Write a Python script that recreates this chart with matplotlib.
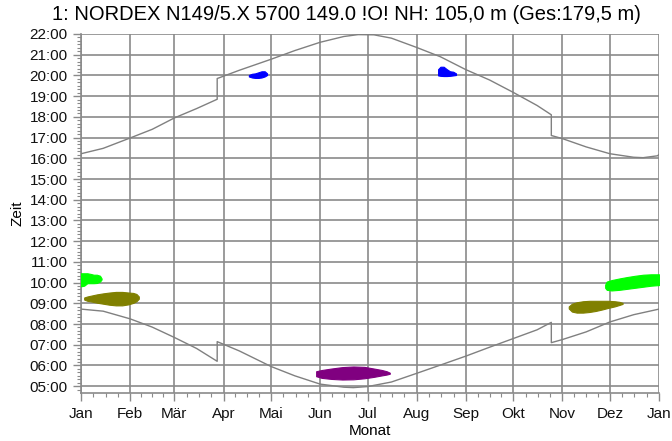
import matplotlib
matplotlib.use("Agg")
import matplotlib.pyplot as plt
import numpy as np
from matplotlib.ticker import FixedLocator, MultipleLocator, FuncFormatter

plt.rcParams['font.family'] = ['Liberation Sans', 'DejaVu Sans']

# Month ticks (day of year) and German labels
month_days = [0, 31, 59, 90, 120, 151, 181, 212, 243, 273, 304, 334, 365]
month_labels = ["Jan", "Feb", "Mär", "Apr", "Mai", "Jun", "Jul", "Aug", "Sep", "Okt", "Nov", "Dez", "Jan"]

# Sunset (upper gray curve), hours, with DST jumps
sunset_days = [0, 14, 31, 45, 59, 73, 86, 86, 100, 120, 135, 151, 166, 175, 185, 196, 212, 227, 243, 258, 273, 288, 297, 297, 304, 319, 334, 349, 355, 364, 365]
sunset_hours = [16.22, 16.48, 16.98, 17.40, 17.95, 18.40, 18.85, 19.85, 20.25, 20.78, 21.20, 21.60, 21.88, 21.97, 21.96, 21.80, 21.35, 20.90, 20.28, 19.78, 19.18, 18.55, 18.10, 17.10, 16.95, 16.55, 16.22, 16.05, 16.03, 16.12, 16.18]

# Sunrise (lower gray curve)
sunrise_days = [0, 14, 31, 45, 59, 73, 86, 86, 100, 120, 135, 151, 166, 172, 181, 196, 212, 227, 243, 258, 273, 288, 297, 297, 304, 319, 334, 349, 365]
sunrise_hours = [8.72, 8.62, 8.25, 7.85, 7.35, 6.82, 6.20, 7.15, 6.70, 5.95, 5.50, 5.10, 4.95, 4.93, 4.98, 5.20, 5.62, 6.02, 6.45, 6.88, 7.30, 7.72, 8.08, 7.10, 7.25, 7.62, 8.10, 8.45, 8.72]

# Shadow-flicker periods: (days, lower, upper, colour)
green_jan_days = [0, 2, 4, 6, 8, 10, 12, 13]
green_jan_top = [10.45, 10.45, 10.45, 10.42, 10.38, 10.38, 10.33, 10.20]
green_jan_bot = [9.82, 9.85, 9.97, 9.97, 9.97, 9.98, 10.05, 10.15]

olive_jan_days = [2, 4, 7, 10, 14, 18, 22, 26, 30, 33, 35, 36.5]
olive_jan_top = [9.28, 9.33, 9.38, 9.43, 9.48, 9.52, 9.55, 9.55, 9.52, 9.50, 9.45, 9.33]
olive_jan_bot = [9.18, 9.12, 9.08, 9.03, 8.98, 8.93, 8.90, 8.90, 8.95, 9.02, 9.10, 9.22]

blue_apr_days = [106, 108, 110, 112, 114, 116, 117.5]
blue_apr_top = [20.02, 20.08, 20.10, 20.15, 20.20, 20.20, 20.10]
blue_apr_bot = [19.95, 19.90, 19.88, 19.88, 19.90, 19.95, 20.02]

blue_aug_days = [225.5, 227, 229, 231, 233, 235, 236.8]
blue_aug_top = [20.30, 20.42, 20.42, 20.30, 20.20, 20.18, 20.10]
blue_aug_bot = [20.00, 19.98, 19.97, 19.97, 19.98, 20.00, 20.02]

purple_days = [148.5, 152, 158, 165, 172, 179, 185, 190, 193, 195]
purple_top = [5.72, 5.78, 5.85, 5.92, 5.95, 5.93, 5.85, 5.78, 5.72, 5.65]
purple_bot = [5.48, 5.40, 5.35, 5.32, 5.33, 5.38, 5.45, 5.52, 5.56, 5.60]

olive_nov_days = [308, 310, 313, 317, 321, 325, 329, 333, 337, 340, 342]
olive_nov_top = [8.85, 8.98, 9.05, 9.10, 9.12, 9.12, 9.12, 9.12, 9.10, 9.07, 9.02]
olive_nov_bot = [8.75, 8.60, 8.55, 8.55, 8.58, 8.63, 8.70, 8.78, 8.85, 8.92, 8.97]

green_dec_days = [331, 332, 335, 340, 345, 350, 355, 360, 365]
green_dec_top = [9.90, 10.05, 10.12, 10.20, 10.27, 10.33, 10.38, 10.40, 10.40]
green_dec_bot = [9.75, 9.65, 9.62, 9.65, 9.70, 9.75, 9.80, 9.85, 9.88]

blobs = [
    (green_jan_days, green_jan_bot, green_jan_top, "#00ff00"),
    (olive_jan_days, olive_jan_bot, olive_jan_top, "#808000"),
    (blue_apr_days, blue_apr_bot, blue_apr_top, "#0000ff"),
    (blue_aug_days, blue_aug_bot, blue_aug_top, "#0000ff"),
    (purple_days, purple_bot, purple_top, "#800080"),
    (olive_nov_days, olive_nov_bot, olive_nov_top, "#808000"),
    (green_dec_days, green_dec_bot, green_dec_top, "#00ff00"),
]

fig = plt.figure(figsize=(6.72, 4.41), dpi=100)
ax = fig.add_axes([81/672, 1-393/441, (659-81)/672, (393-34)/441])

grid_c = "#8a8a8a"
ax.set_xlim(0, 365)
ax.set_ylim(4.67, 22.0)

for spine in ["top", "right"]:
    ax.spines[spine].set_visible(False)
for spine in ["left", "bottom"]:
    ax.spines[spine].set_color(grid_c)
    ax.spines[spine].set_linewidth(1.2)

ax.xaxis.set_major_locator(FixedLocator(month_days))
ax.set_xticklabels(month_labels)
minor_x = []
for a, b in zip(month_days[:-1], month_days[1:]):
    for k in (1, 2, 3):
        minor_x.append(a + (b - a) * k / 4)
ax.xaxis.set_minor_locator(FixedLocator(minor_x))

ax.yaxis.set_major_locator(MultipleLocator(1))
ax.yaxis.set_minor_locator(MultipleLocator(1/6))
ax.yaxis.set_major_formatter(FuncFormatter(lambda v, p: f"{int(round(v)):02d}:00"))

ax.tick_params(which="major", length=6, width=1.0, color=grid_c, labelsize=11, labelcolor="#111111")
ax.tick_params(which="minor", length=3, width=0.8, color=grid_c)
ax.tick_params(axis="x", pad=4)

ax.grid(True, which="major", color=grid_c, linewidth=1.2)
ax.set_axisbelow(True)

ax.plot(sunset_days, sunset_hours, color="#808080", linewidth=1.0, zorder=3)
ax.plot(sunrise_days, sunrise_hours, color="#808080", linewidth=1.0, zorder=3)

for d, lo, hi, c in blobs:
    ax.fill_between(d, lo, hi, color=c, linewidth=0.8, edgecolor=c, zorder=4)

ax.set_xlabel("Monat", fontsize=11, labelpad=2)
ax.set_ylabel("Zeit", fontsize=11, labelpad=4)

fig.text(346/672, 1-15/441, "1: NORDEX N149/5.X 5700 149.0 !O! NH: 105,0 m (Ges:179,5 m)",
         ha="center", va="center", fontsize=14.5)

fig.savefig("out.png", dpi=100)
